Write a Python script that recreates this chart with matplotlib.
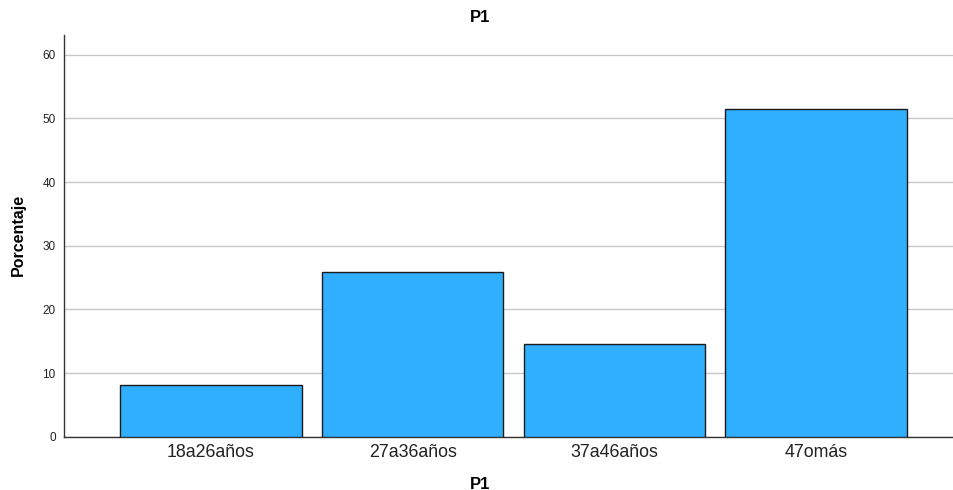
import matplotlib
matplotlib.use("Agg")
import matplotlib.pyplot as plt

categories = ["18a26años", "27a36años", "37a46años", "47omás"]
values = [8.1, 25.9, 14.6, 51.4]
yticks = [0, 10, 20, 30, 40, 50, 60]

plt.rcParams['font.family'] = ['Liberation Sans', 'DejaVu Sans']

fig = plt.figure(figsize=(9.54, 4.90), dpi=100)
ax = fig.add_axes([64/954, 1 - 436.7/490, 1 - 64/954, (436.7 - 35)/490])

x = list(range(len(categories)))
ax.bar(x, values, width=0.9, color='#31AFFF', edgecolor='#1a1a1a', linewidth=1.0, zorder=3)

ax.set_xlim(-0.729, 3.684)
ax.set_ylim(0, 63.1)
ax.set_yticks(yticks)
ax.set_yticklabels([str(v) for v in yticks], fontsize=8.5)
ax.set_xticks(x)
ax.set_xticklabels(categories, fontsize=12.8)
ax.tick_params(axis='both', length=0, colors='#222222')
ax.tick_params(axis='y', pad=6)
ax.tick_params(axis='x', pad=5)

ax.yaxis.grid(True, color='#c8c8c8', linewidth=1.0, zorder=0)
ax.set_axisbelow(True)

for s in ['top', 'right']:
    ax.spines[s].set_visible(False)
for s in ['left', 'bottom']:
    ax.spines[s].set_color('#333333')
    ax.spines[s].set_linewidth(1.0)

fig.text(480/954, 1 - 18/490, "P1", fontsize=12, fontweight='bold', ha='center', va='center')
fig.text(480/954, 1 - 484/490, "P1", fontsize=12, fontweight='bold', ha='center', va='center')
fig.text(18/954, 1 - 235/490, "Porcentaje", fontsize=11.5, fontweight='bold', ha='center', va='center', rotation=90)

fig.savefig("out.png", dpi=100)
